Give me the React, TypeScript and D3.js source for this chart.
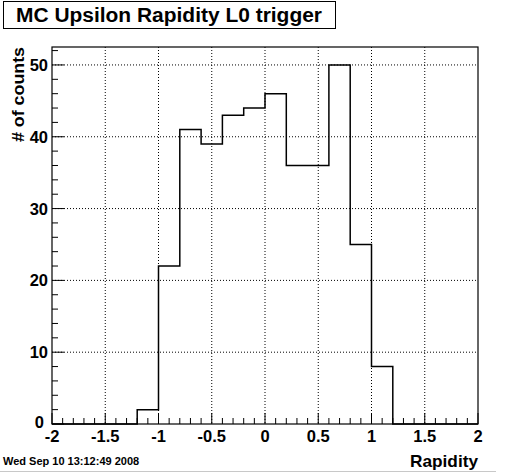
import React from "react";
import { scaleLinear, range, line, curveLinear } from "d3";

// histogram: 20 bins of width 0.2 from -2 to 2
const binLow = -2;
const binWidth = 0.2;
const counts = [0, 0, 0, 0, 2, 22, 41, 39, 43, 44, 46, 36, 36, 50, 25, 8, 0, 0, 0, 0];

const xTicks = [-2, -1.5, -1, -0.5, 0, 0.5, 1, 1.5, 2];
const xTickLabels = ["-2", "-1.5", "-1", "-0.5", "0", "0.5", "1", "1.5", "2"];
const yTicks = [0, 10, 20, 30, 40, 50];
const yTickLabels = ["0", "10", "20", "30", "40", "50"];

const title = "MC Upsilon Rapidity L0 trigger";
const xTitle = "Rapidity";
const yTitle = "# of counts";
const dateStamp = "Wed Sep 10 13:12:49 2008";

const W = 505;
const H = 473;
const frame = { left: 52, right: 478, top: 47, bottom: 424 };
const font = "'Liberation Sans', Arial, Helvetica, sans-serif";

export default function App() {
  const x = scaleLinear().domain([-2, 2]).range([frame.left, frame.right]);
  const y = scaleLinear().domain([0, 52.5]).range([frame.bottom, frame.top]);

  // step outline from bin edges
  const pts: [number, number][] = [];
  counts.forEach((c, i) => {
    const lo = binLow + i * binWidth;
    const hi = lo + binWidth;
    pts.push([x(lo), y(c)]);
    pts.push([x(hi), y(c)]);
  });
  const path = line().curve(curveLinear)([
    [x(binLow), y(0)],
    ...pts,
    [x(binLow + counts.length * binWidth), y(0)],
  ]);

  const xMinor = range(0, 41).map((i) => -2 + i * 0.1);
  const yMinor = range(0, 27).map((i) => i * 2);

  return (
    <svg
      width={W}
      height={H}
      style={{ position: "absolute", left: 0, top: 0, background: "#fff" }}
      fontFamily={font}
      fontWeight="bold"
    >
      <rect x={0} y={0} width={W} height={H} fill="#fff" />

      {/* title box */}
      <rect x={3.5} y={1.5} width={332} height={27} fill="#fff" stroke="#000" strokeWidth={1} />
      <text x={16} y={22} fontSize={20} textLength={306} lengthAdjust="spacingAndGlyphs">
        {title}
      </text>

      {/* grid */}
      {xTicks.slice(1, -1).map((t) => (
        <line
          key={`gx${t}`}
          x1={x(t)}
          x2={x(t)}
          y1={frame.top}
          y2={frame.bottom}
          stroke="#000"
          strokeDasharray="1 2"
          strokeWidth={1}
        />
      ))}
      {yTicks.slice(1).map((t) => (
        <line
          key={`gy${t}`}
          x1={frame.left}
          x2={frame.right}
          y1={y(t)}
          y2={y(t)}
          stroke="#000"
          strokeDasharray="1 2"
          strokeWidth={1}
        />
      ))}

      {/* histogram */}
      <path d={path ?? ""} fill="none" stroke="#000" strokeWidth={1.5} />

      {/* frame */}
      <rect
        x={frame.left}
        y={frame.top}
        width={frame.right - frame.left}
        height={frame.bottom - frame.top}
        fill="none"
        stroke="#000"
        strokeWidth={1.2}
      />

      {/* x ticks */}
      {xMinor.map((t, i) => (
        <line
          key={`xt${i}`}
          x1={x(t)}
          x2={x(t)}
          y1={frame.bottom}
          y2={frame.bottom - (i % 5 === 0 ? 11 : 6)}
          stroke="#000"
        />
      ))}
      {/* y ticks */}
      {yMinor.map((t, i) => (
        <line
          key={`yt${i}`}
          x1={frame.left}
          x2={frame.left + (i % 5 === 0 ? 12 : 6)}
          y1={y(t)}
          y2={y(t)}
          stroke="#000"
        />
      ))}

      {/* tick labels */}
      {xTicks.map((t, i) => (
        <text key={`xl${t}`} x={x(t)} y={442} fontSize={16.5} textAnchor="middle">
          {xTickLabels[i]}
        </text>
      ))}
      {yTicks.map((t, i) => (
        <text
          key={`yl${t}`}
          x={t === 0 ? 44 : 48}
          y={y(t) + (t === 0 ? 4 : 6)}
          fontSize={16.5}
          textAnchor="end"
        >
          {yTickLabels[i]}
        </text>
      ))}

      {/* axis titles */}
      <text x={478} y={467} fontSize={17} textAnchor="end" textLength={68} lengthAdjust="spacingAndGlyphs">
        {xTitle}
      </text>
      <text
        transform={`translate(24, ${frame.top}) rotate(-90)`}
        fontSize={17}
        textAnchor="end"
        textLength={95}
        lengthAdjust="spacingAndGlyphs"
      >
        {yTitle}
      </text>

      <text x={3} y={465} fontSize={11}>
        {dateStamp}
      </text>

      <line x1={0} x2={496} y1={471.5} y2={471.5} stroke="#c8c8c8" strokeWidth={1} />
    </svg>
  );
}
